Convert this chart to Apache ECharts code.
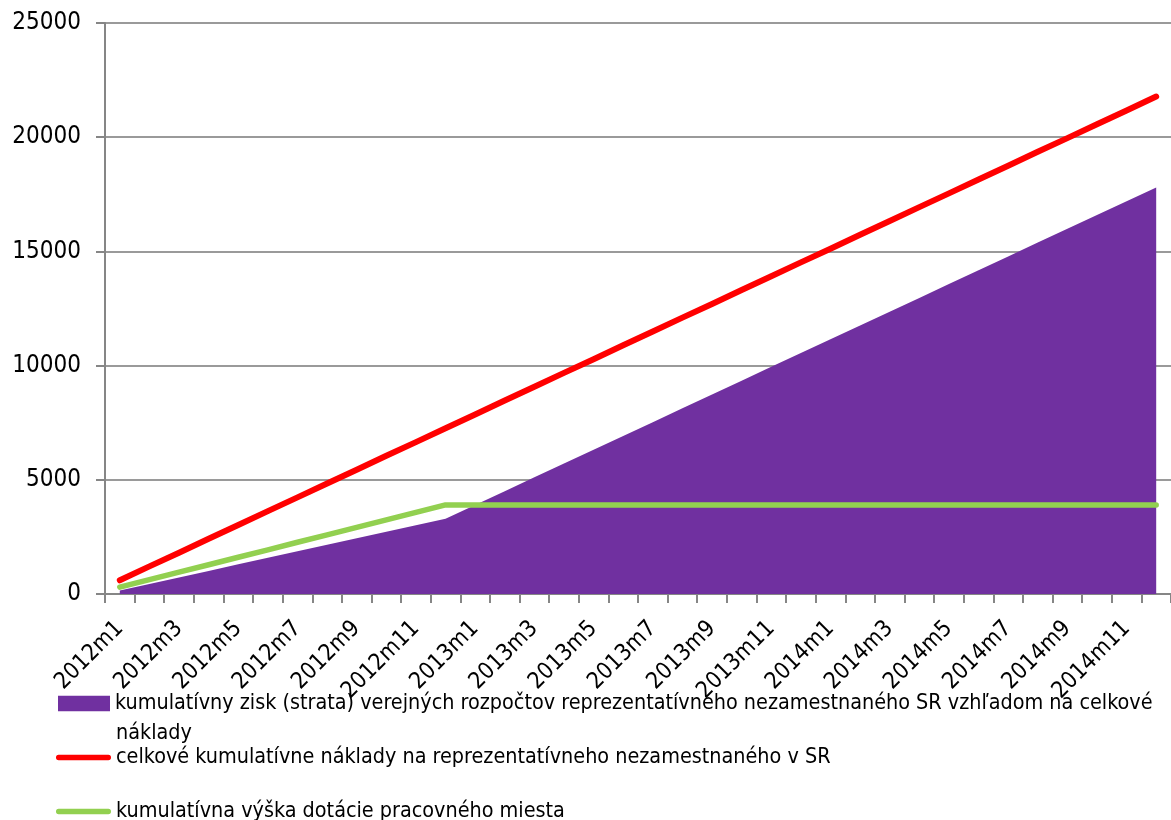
<!DOCTYPE html>
<html>
<head>
<meta charset="utf-8">
<script src="https://cdn.jsdelivr.net/npm/echarts@6/dist/echarts.min.js"></script>
<style>
  html, body { margin: 0; padding: 0; background: #ffffff; }
  #chart { width: 1171px; height: 820px; }
</style>
</head>
<body>
<div id="chart"></div>
<script>
// Months of the projection (2012–2014)
const months = [
  '2012m1', '2012m2', '2012m3', '2012m4', '2012m5', '2012m6',
  '2012m7', '2012m8', '2012m9', '2012m10', '2012m11', '2012m12',
  '2013m1', '2013m2', '2013m3', '2013m4', '2013m5', '2013m6',
  '2013m7', '2013m8', '2013m9', '2013m10', '2013m11', '2013m12',
  '2014m1', '2014m2', '2014m3', '2014m4', '2014m5', '2014m6',
  '2014m7', '2014m8', '2014m9', '2014m10', '2014m11', '2014m12'
];

// Cumulative gain (loss) of public budgets vs. total costs
const cumulativeGain = [
  150, 440, 725, 1010, 1300, 1585, 1870, 2155, 2440, 2725, 3010, 3300,
  3900, 4500, 5110, 5715, 6320, 6920, 7525, 8130, 8735, 9340, 9945, 10550,
  11150, 11755, 12360, 12965, 13570, 14175, 14780, 15385, 15990, 16595, 17200, 17800
];

// Total cumulative costs of a representative unemployed person
const cumulativeCosts = [
  600, 1210, 1810, 2420, 3020, 3630, 4230, 4840, 5440, 6050, 6650, 7260,
  7860, 8470, 9070, 9680, 10280, 10890, 11490, 12100, 12700, 13310, 13910, 14520,
  15120, 15730, 16330, 16940, 17540, 18150, 18750, 19360, 19960, 20570, 21170, 21780
];

// Cumulative job subsidy (paid during 2012 only)
const cumulativeSubsidy = [
  300, 630, 955, 1280, 1610, 1935, 2265, 2590, 2920, 3245, 3575, 3900,
  3900, 3900, 3900, 3900, 3900, 3900, 3900, 3900, 3900, 3900, 3900, 3900,
  3900, 3900, 3900, 3900, 3900, 3900, 3900, 3900, 3900, 3900, 3900, 3900
];

const yTicks = { min: 0, max: 25000, interval: 5000 };

const names = [
  'kumulatívny zisk (strata) verejných rozpočtov reprezentatívneho nezamestnaného SR vzhľadom na celkové náklady',
  'celkové kumulatívne náklady na reprezentatívneho nezamestnaného v SR',
  'kumulatívna výška dotácie pracovného miesta'
];
// The first legend entry wraps after "celkové"
const firstLegendLines = [
  'kumulatívny zisk (strata) verejných rozpočtov reprezentatívneho nezamestnaného SR vzhľadom na celkové',
  'náklady'
];

const FONT = "'Liberation Sans Narrow', 'DejaVu Sans Condensed', sans-serif";
const PURPLE = '#7030A0', RED = '#FF0000', GREEN = '#92D050';
const LEGEND_SIZE = 21.4;

// Thick line with rounded ends, used as legend key for the line series
const lineKey = 'path://M2.65,0 L52.35,0 A2.65,2.65 0 0 1 52.35,5.3 L2.65,5.3 A2.65,2.65 0 0 1 2.65,0 Z';

const chart = echarts.init(document.getElementById('chart'), null, { renderer: 'canvas' });

const legendText = { fontFamily: FONT, fontSize: LEGEND_SIZE, color: '#000000' };

chart.setOption({
  animation: false,
  backgroundColor: '#ffffff',
  grid: { left: 105, top: 23, width: 1075, height: 571, containLabel: false },
  xAxis: {
    type: 'category',
    data: months,
    boundaryGap: true,
    axisLine: { lineStyle: { color: '#868686', width: 2 } },
    axisTick: { show: true, interval: 0, length: 9, lineStyle: { color: '#868686', width: 2 } },
    axisLabel: {
      interval: 1, rotate: 45, margin: 31,
      fontFamily: FONT, fontSize: 23, color: '#000000'
    },
    splitLine: { show: false }
  },
  yAxis: {
    type: 'value',
    min: yTicks.min, max: yTicks.max, interval: yTicks.interval,
    axisLine: { show: true, lineStyle: { color: '#868686', width: 2 } },
    axisTick: { show: true, length: 9, lineStyle: { color: '#868686', width: 2 } },
    axisLabel: {
      margin: 24, fontFamily: FONT, fontSize: 24, color: '#000000',
      formatter: (v) => String(v)
    },
    splitLine: { lineStyle: { color: '#9a9a9a', width: 2 } }
  },
  legend: [
    {
      data: [{ name: names[0], icon: 'rect' }],
      left: 58, top: 693, padding: 0,
      itemWidth: 52, itemHeight: 15.6,
      formatter: () => firstLegendLines[0],
      textStyle: legendText
    },
    {
      data: [{ name: names[1], icon: lineKey, itemStyle: { color: RED, borderWidth: 0 } }],
      left: 56, top: 747, padding: 0,
      itemWidth: 55, itemHeight: 5.3,
      textStyle: legendText
    },
    {
      data: [{ name: names[2], icon: lineKey, itemStyle: { color: GREEN, borderWidth: 0 } }],
      left: 56, top: 801, padding: 0,
      itemWidth: 55, itemHeight: 5.3,
      textStyle: legendText
    }
  ],
  // Continuation line of the first legend entry
  graphic: [
    {
      type: 'text',
      left: 116, top: 723,
      style: {
        text: firstLegendLines[1],
        font: LEGEND_SIZE + 'px ' + FONT,
        fill: '#000000'
      }
    }
  ],
  series: [
    {
      name: names[0],
      type: 'line',
      data: cumulativeGain,
      symbol: 'none',
      lineStyle: { width: 0, color: PURPLE },
      itemStyle: { color: PURPLE },
      areaStyle: { color: PURPLE, opacity: 1 },
      z: 1
    },
    {
      name: names[1],
      type: 'line',
      data: cumulativeCosts,
      symbol: 'none',
      lineStyle: { width: 6, color: RED, cap: 'round', join: 'round' },
      itemStyle: { color: RED },
      z: 3
    },
    {
      name: names[2],
      type: 'line',
      data: cumulativeSubsidy,
      symbol: 'none',
      lineStyle: { width: 5.5, color: GREEN, cap: 'round', join: 'round' },
      itemStyle: { color: GREEN },
      z: 2
    }
  ]
});
</script>
</body>
</html>
